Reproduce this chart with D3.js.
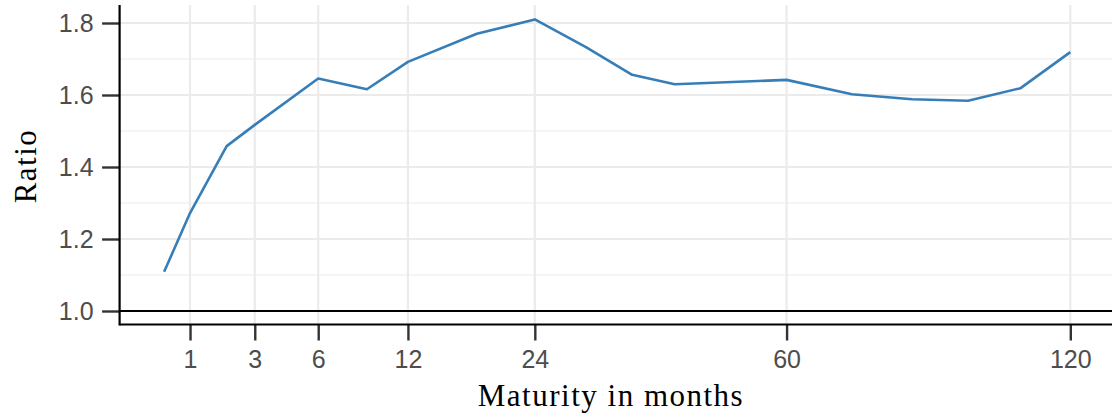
<!DOCTYPE html>
<html><head><meta charset="utf-8">
<script src="https://cdn.jsdelivr.net/npm/d3@7"></script>
<style>body{margin:0;background:#fff}svg{display:block}</style>
</head><body>
<script>
const maturity = [0.5, 1, 2, 3, 6, 9, 12, 18, 24, 30, 36, 42, 60, 72, 84, 96, 108, 120];
const ratio = [1.109, 1.272, 1.458, 1.517, 1.646, 1.616, 1.692, 1.770, 1.810, 1.733, 1.656, 1.630, 1.642, 1.602, 1.588, 1.584, 1.619, 1.719];
const xTicks = [1, 3, 6, 12, 24, 60, 120];
const yTicks = [1.0, 1.2, 1.4, 1.6, 1.8];
const yMinor = [1.1, 1.3, 1.5, 1.7];

(function () {
const W = 1112, H = 416;
const svg = d3.select("body").append("svg").attr("width", W).attr("height", H);
const x = d3.scaleSqrt().domain([0, 120]).range([101.6, 1070.3]);
const y = d3.scaleLinear().domain([1, 1.8]).range([311, 23]);
const pL = 119.6, pR = 1116, pT = 5, pB = 324.5;

const g = svg.append("g");
g.selectAll(".ym").data(yMinor).join("line")
  .attr("x1", pL).attr("x2", pR).attr("y1", d => y(d)).attr("y2", d => y(d))
  .attr("stroke", "#ebebeb").attr("stroke-width", 1.1);
g.selectAll(".yM").data(yTicks).join("line")
  .attr("x1", pL).attr("x2", pR).attr("y1", d => y(d)).attr("y2", d => y(d))
  .attr("stroke", "#ebebeb").attr("stroke-width", 2.2);
g.selectAll(".xM").data(xTicks).join("line")
  .attr("x1", d => x(d)).attr("x2", d => x(d)).attr("y1", pT).attr("y2", pB)
  .attr("stroke", "#ebebeb").attr("stroke-width", 2.2);

g.append("line").attr("x1", pL).attr("x2", pR).attr("y1", y(1)).attr("y2", y(1))
  .attr("stroke", "#000").attr("stroke-width", 2.2);

const line = d3.line().x((d, i) => x(maturity[i])).y(d => y(d));
g.append("path").datum(ratio).attr("d", line).attr("fill", "none")
  .attr("stroke", "#377EB8").attr("stroke-width", 2.6).attr("stroke-linejoin", "round");

const xAxis = d3.axisBottom(x).tickValues(xTicks).tickSize(16).tickPadding(10).tickFormat(d3.format("d"));
const yAxis = d3.axisLeft(y).tickValues(yTicks).tickSize(17.5).tickPadding(8.5).tickFormat(d3.format(".1f"));
const xa = svg.append("g").attr("transform", `translate(0,${pB})`).call(xAxis);
const ya = svg.append("g").attr("transform", `translate(${pL},0)`).call(yAxis);
[xa, ya].forEach(a => {
  a.select(".domain").remove();
  a.selectAll(".tick line").attr("stroke", "#333").attr("stroke-width", 2.4);
  a.selectAll(".tick text").attr("fill", "#4d4d4d").style("font-family", "'Liberation Sans', Arial, sans-serif").style("font-size", "25px");
});
svg.append("line").attr("x1", pL).attr("x2", pR).attr("y1", pB).attr("y2", pB).attr("stroke", "#000").attr("stroke-width", 2.2);
svg.append("line").attr("x1", pL).attr("x2", pL).attr("y1", pT).attr("y2", pB + 1.1).attr("stroke", "#000").attr("stroke-width", 2.2);

svg.append("text").attr("x", 611).attr("y", 406).attr("text-anchor", "middle")
  .style("font-family", "'Liberation Serif', 'Times New Roman', serif").style("font-size", "31px")
  .style("letter-spacing", "1.5px").attr("fill", "#000")
  .text("Maturity in months");
svg.append("text").attr("transform", "translate(35.5,166) rotate(-90)").attr("text-anchor", "middle")
  .style("font-family", "'Liberation Serif', 'Times New Roman', serif").style("font-size", "31px")
  .style("letter-spacing", "1.5px").attr("fill", "#000")
  .text("Ratio");
})();
</script>
</body></html>
